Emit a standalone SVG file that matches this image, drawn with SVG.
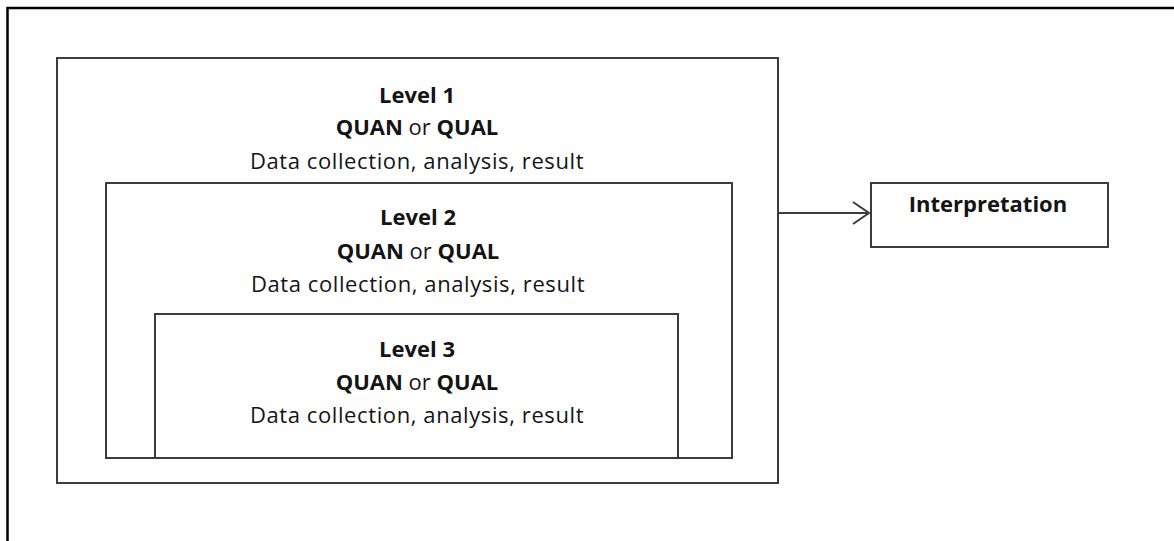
<svg xmlns="http://www.w3.org/2000/svg" width="1174" height="541" viewBox="0 0 1174 541">
  <style>
    .box { fill: none; stroke: #3c3c3c; stroke-width: 2; }
    .frame { fill: none; stroke: #000; stroke-width: 2.5; }
    .t { font-family: "Open Sans", "Noto Sans", sans-serif; font-size: 22px; fill: #141414; text-anchor: middle; }
    .b { font-weight: bold; }
    .d { letter-spacing: 0.6px; }
    .edge { fill: none; stroke: #3c3c3c; stroke-width: 2; }
  </style>
  <defs>
    <marker id="open-arrow" markerWidth="20" markerHeight="24" refX="17" refY="12" orient="auto" markerUnits="userSpaceOnUse">
      <path d="M1,1 L17,12 L1,23" fill="none" stroke="#3c3c3c" stroke-width="2"/>
    </marker>
  </defs>
  <rect width="1174" height="541" fill="#fff"/>
  <!-- page frame: left and top edges only -->
  <path class="frame" d="M7.5,541 V8 H1174"/>

  <g id="level1">
    <rect class="box" x="57" y="58" width="721" height="425"/>
    <text class="t b" x="417" y="103">Level 1</text>
    <text class="t" x="417" y="135"><tspan class="b">QUAN</tspan> or <tspan class="b">QUAL</tspan></text>
    <text class="t d" x="417" y="169">Data collection, analysis, result</text>
  </g>

  <g id="level2">
    <rect class="box" x="106" y="183" width="626" height="275"/>
    <text class="t b" x="418" y="225">Level 2</text>
    <text class="t" x="418" y="259"><tspan class="b">QUAN</tspan> or <tspan class="b">QUAL</tspan></text>
    <text class="t d" x="418" y="292">Data collection, analysis, result</text>
  </g>

  <g id="level3">
    <path class="box" d="M155,458 V314 H678 V458"/>
    <text class="t b" x="417" y="357">Level 3</text>
    <text class="t" x="417" y="390"><tspan class="b">QUAN</tspan> or <tspan class="b">QUAL</tspan></text>
    <text class="t d" x="417" y="423">Data collection, analysis, result</text>
  </g>

  <g id="interpretation">
    <rect class="box" x="871" y="183" width="237" height="64"/>
    <text class="t b" x="988" y="212">Interpretation</text>
  </g>

  <g id="connectors">
    <path class="edge" d="M778,213 H869" marker-end="url(#open-arrow)"/>
  </g>
</svg>
